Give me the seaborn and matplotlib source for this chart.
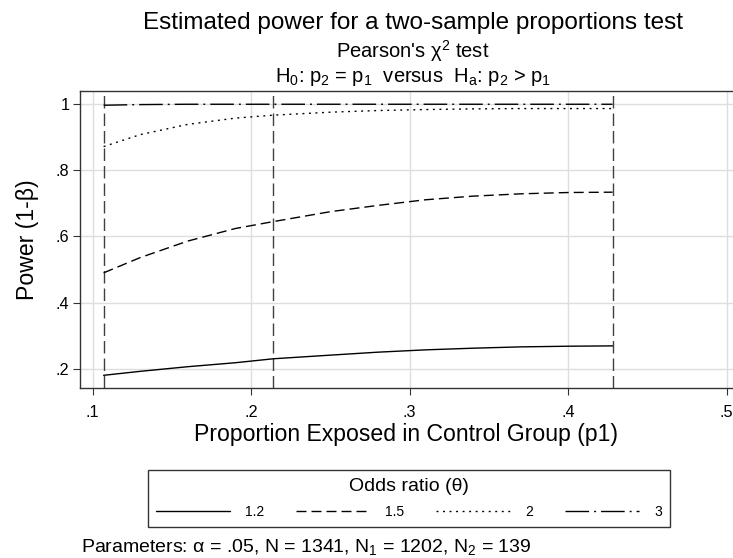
import pandas as pd
import seaborn as sns
import matplotlib.pyplot as plt

# valores
p1 = [0.107, 0.13, 0.16, 0.19, 0.214, 0.25, 0.28, 0.31, 0.34, 0.37, 0.40, 0.428]
pow_12 = [0.180, 0.192, 0.206, 0.218, 0.230, 0.241, 0.250, 0.257, 0.262, 0.266, 0.268, 0.269]
pow_15 = [0.490, 0.536, 0.586, 0.624, 0.645, 0.675, 0.694, 0.711, 0.722, 0.729, 0.733, 0.734]
pow_2 = [0.872, 0.908, 0.939, 0.958, 0.967, 0.976, 0.981, 0.984, 0.986, 0.987, 0.987, 0.987]
pow_3 = [0.997, 0.999, 1.0, 1.0, 1.0, 1.0, 1.0, 1.0, 1.0, 1.0, 1.0, 1.0]
thetas = ["1.2", "1.5", "2", "3"]
vlines = [0.107, 0.214, 0.428]
xticks = [0.1, 0.2, 0.3, 0.4, 0.5]
xticklabels = [".1", ".2", ".3", ".4", ".5"]
yticks = [0.2, 0.4, 0.6, 0.8, 1.0]
yticklabels = [".2", ".4", ".6", ".8", "1"]

rows = []
for th, vals in zip(thetas, [pow_12, pow_15, pow_2, pow_3]):
    for x, y in zip(p1, vals):
        rows.append({"p1": x, "power": y, "theta": th})
data = pd.DataFrame(rows)

sns.set_theme(style="white")
plt.rcParams["font.family"] = ["Liberation Sans", "DejaVu Sans"]
plt.rcParams["mathtext.fontset"] = "custom"
plt.rcParams["mathtext.rm"] = "Liberation Sans"
plt.rcParams["mathtext.it"] = "Liberation Sans:italic"
plt.rcParams["mathtext.default"] = "regular"
plt.rcParams["text.color"] = "black"
plt.rcParams["axes.labelcolor"] = "black"

W, H = 733, 558
fig = plt.figure(figsize=(W / 100, H / 100), dpi=100)
ax = fig.add_axes([80 / W, (H - 388.3) / H, (W - 80) / W, (388.3 - 90.7) / H])

dashes = {"1.2": "", "1.5": (7.2, 3.6), "2": (1.4, 3.3), "3": (17, 3.6, 1.4, 3.6)}
sns.lineplot(data=data, x="p1", y="power", style="theta", style_order=thetas,
             dashes=dashes, color="black", linewidth=1.0, legend=False, ax=ax)
handles = list(ax.lines[:4])

for v in vlines:
    ax.axvline(v, color="#404040", linewidth=1.0, dashes=(9, 3.6), zorder=1)

ax.set_xlim(0.0921, 0.504)
ax.set_ylim(0.1407, 1.041)
ax.set_xticks(xticks)
ax.set_xticklabels(xticklabels)
ax.set_yticks(yticks)
ax.set_yticklabels(yticklabels)
ax.grid(True, color="#dedede", linewidth=1.0, zorder=0)
ax.set_axisbelow(True)
ax.tick_params(axis="both", bottom=True, left=True, direction="out", length=5,
               width=0.8, color="#333333", labelsize=11.7, labelcolor="black")
ax.tick_params(axis="x", pad=7)
ax.tick_params(axis="y", pad=2.7)
for side in ["left", "top", "bottom"]:
    ax.spines[side].set_color("#333333")
    ax.spines[side].set_linewidth(1.0)
ax.spines["right"].set_visible(False)

ax.set_xlabel("Proportion Exposed in Control Group (p1)", fontsize=16.6, labelpad=2)
ax.set_ylabel("Power (1-β)", fontsize=16.6, labelpad=12)

# titulos
fig.text(413 / W, 1 - 29.3 / H, "Estimated power for a two-sample proportions test",
         fontsize=17.5, ha="center", va="baseline")
fig.text(413 / W, 1 - 58.3 / H, "Pearson's χ$^2$ test",
         fontsize=14.5, ha="center", va="baseline")
fig.text(413 / W, 1 - 81.7 / H, "H$_0$: p$_2$ = p$_1$  versus  H$_a$: p$_2$ > p$_1$",
         fontsize=14.5, ha="center", va="baseline")

leg = fig.legend(handles, thetas, loc="upper center",
                 bbox_to_anchor=(409 / W, 1 - 462.7 / H), ncol=4,
                 title="Odds ratio (θ)", fontsize=10, title_fontsize=14,
                 handlelength=5.3, handletextpad=1.1, columnspacing=2.3,
                 frameon=True, fancybox=False, edgecolor="#333333",
                 framealpha=1, borderpad=0.6, labelspacing=0.7)
leg.get_frame().set_linewidth(1.0)

fig.text(81 / W, 1 - 552 / H, "Parameters: α = .05, N = 1341, N$_1$ = 1202, N$_2$ = 139",
         fontsize=14, ha="left", va="baseline")

plt.savefig("out.png", dpi=100)
